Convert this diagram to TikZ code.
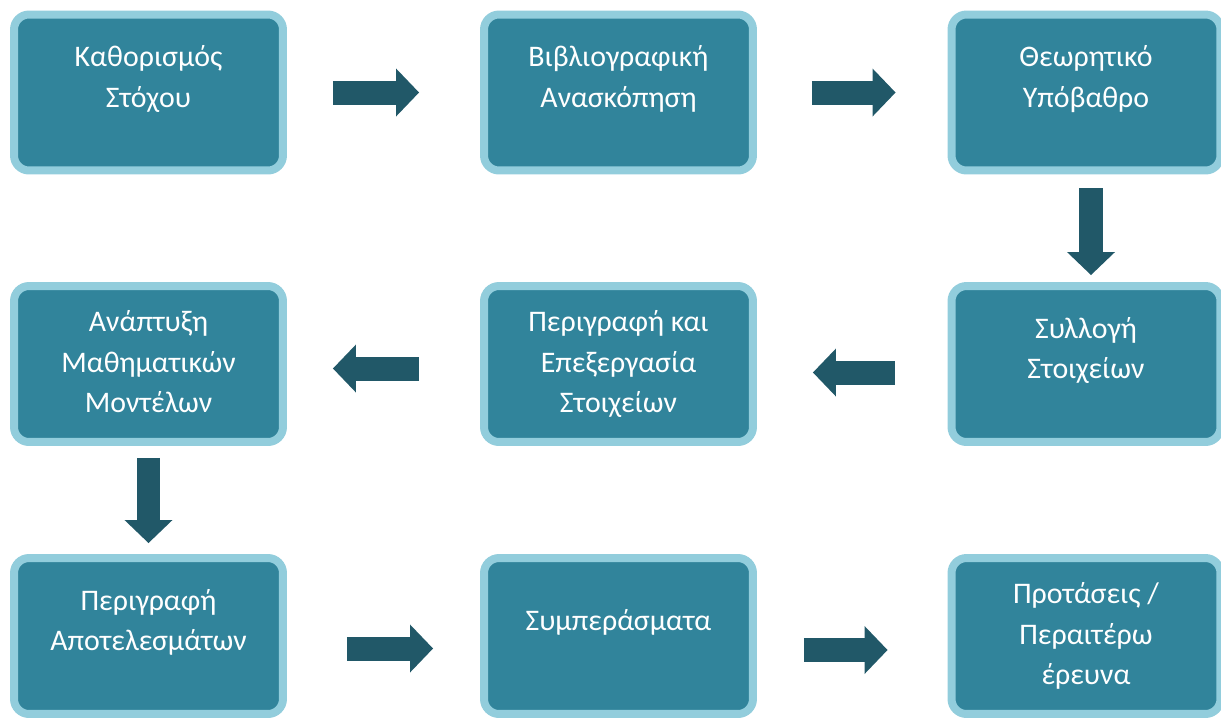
\documentclass[tikz,border=0pt]{standalone}
\usepackage{fontspec}
\setmainfont{Carlito}
\usetikzlibrary{arrows.meta,positioning,shadows}
\definecolor{boxfill}{HTML}{31849B}
\definecolor{boxrim}{HTML}{92CDDC}
\definecolor{flowteal}{HTML}{215868}
\newcommand{\stacked}[1]{\begin{tabular}{@{}c@{}}#1\end{tabular}}
\newcommand{\lifted}[1]{\raisebox{0.27cm}[\height][\depth]{\stacked{#1}}}
\tikzset{
  stage/.style={draw=boxrim,line width=0.16cm,fill=boxfill,rounded corners=0.3cm,minimum width=5.38cm,minimum height=3.12cm,inner sep=0pt,text=white,font=\fontsize{17}{22.8}\selectfont,drop shadow={shadow xshift=0.04cm,shadow yshift=-0.06cm,opacity=0.25}},
  flow/.style={draw=flowteal,line width=0.48cm,-{Triangle[length=0.46cm,width=0.96cm,line width=0pt]}}
}
\begin{document}
\begin{tikzpicture}[x=0.02cm,y=-0.02cm]
\useasboundingbox (0,0) rectangle (1221,718);
% top row
\node[stage] (b1) at (148.5,92.5) {\lifted{Καθορισμός\\Στόχου}};
\node[stage] (b2) at (618.5,92.5) {\lifted{Βιβλιογραφική\\Ανασκόπηση}};
\node[stage] (b3) at (1086,92.5) {\lifted{Θεωρητικό\\Υπόβαθρο}};
% middle row
\node[stage] (b4) at (148.5,364) {\stacked{Ανάπτυξη\\Μαθηματικών\\Μοντέλων}};
\node[stage] (b5) at (618.5,364) {\stacked{Περιγραφή και\\Επεξεργασία\\Στοιχείων}};
\node[stage] (b6) at (1086,364) {\lifted{Συλλογή\\Στοιχείων}};
% bottom row
\node[stage] (b7) at (148.5,636) {\lifted{Περιγραφή\\Αποτελεσμάτων}};
\node[stage] (b8) at (618.5,636) {\lifted{Συμπεράσματα}};
\node[stage] (b9) at (1086,636) {\stacked{Προτάσεις /\\Περαιτέρω\\έρευνα}};
% block arrows
\draw[flow,shorten <=0.92cm,shorten >=1.22cm] (b1.east) -- (b2.west);
\draw[flow,shorten <=1.1cm,shorten >=1.04cm] (b2.east) -- (b3.west);
\draw[flow,shorten <=0.28cm,shorten >=0.14cm] ([xshift=0.1cm]b3.south) -- ([xshift=0.1cm]b6.north);
\draw[flow,shorten <=1.06cm,shorten >=1.12cm] ([yshift=-0.17cm]b6.west) -- ([yshift=-0.17cm]b5.east);
\draw[flow,shorten <=1.22cm,shorten >=0.92cm] ([yshift=-0.09cm]b5.west) -- ([yshift=-0.09cm]b4.east);
\draw[flow,shorten <=0.24cm,shorten >=0.22cm] (b4.south) -- (b7.north);
\draw[flow,shorten <=1.2cm,shorten >=0.94cm] ([yshift=-0.25cm]b7.east) -- ([yshift=-0.25cm]b8.west);
\draw[flow,shorten <=0.94cm,shorten >=1.2cm] ([yshift=-0.28cm]b8.east) -- ([yshift=-0.28cm]b9.west);
\end{tikzpicture}
\end{document}
